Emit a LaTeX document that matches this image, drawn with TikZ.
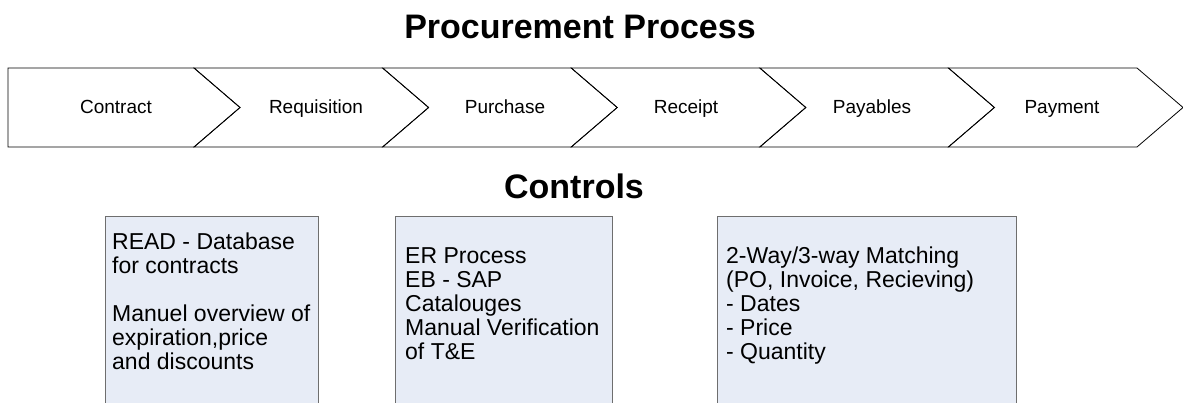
\documentclass[tikz,border=0pt]{standalone}
\usepackage{fontspec}
\setmainfont{Liberation Sans}
\definecolor{ctrlfill}{RGB}{231,236,246}
\definecolor{ctrlline}{RGB}{110,110,110}
\begin{document}
\begin{tikzpicture}[
    x=1pt, y=-1pt,
    chev/.style = {draw, line width=0.8pt, line join=miter},
    stage/.style = {anchor=base, font=\fontsize{19}{22}\selectfont},
    heading/.style = {anchor=base, font=\fontsize{34}{38}\selectfont\bfseries},
    ctrl/.style = {draw=ctrlline, fill=ctrlfill, line width=0.8pt, anchor=north west, minimum height=220pt},
    ctrltext/.style = {anchor=north west, align=left, inner sep=0pt, font=\fontsize{23}{24}\selectfont},
    ]
    \useasboundingbox (0,0) rectangle (1183,403);
    \node[heading] (title) at (580,39) {Procurement Process};
    % process chevrons
    \draw[chev] (8,68) -- (194,68) -- (240,107.5) -- (194,147) -- (8,147) -- cycle;
    \foreach \i in {1,...,5} {
        \pgfmathsetmacro\xl{194+188.6*(\i-1)}
        \draw[chev] (\xl,68) -- ++(188.6,0) -- ++(46,39.5) -- ++(-46,39.5)
            -- ++(-188.6,0) -- ++(46,-39.5) -- cycle;
    }
    \foreach \name/\txt/\cx in {contract/Contract/116, requisition/Requisition/316,
        purchase/Purchase/505, receipt/Receipt/686, payables/Payables/872, payment/Payment/1062}
        \node[stage] (\name) at (\cx,114) {\txt};
    \node[heading] (controls) at (574,199) {Controls};
    % control boxes
    \node[ctrl, minimum width=213pt] (readbox) at (105,216) {};
    \node[ctrl, minimum width=217pt] (erbox) at (395,216) {};
    \node[ctrl, minimum width=299pt] (matchbox) at (717,216) {};
    \node[ctrltext] (readtxt) at (112,233) {READ - Database\\for contracts\\[24pt]Manuel overview of\\expiration,price\\and discounts};
    \node[ctrltext] (ertxt) at (405,247) {ER Process\\EB - SAP\\Catalouges\\Manual Verification\\of T\&E};
    \node[ctrltext] (matchtxt) at (726,247) {2-Way/3-way Matching\\(PO, Invoice, Recieving)\\- Dates\\- Price\\- Quantity};
\end{tikzpicture}
\end{document}
